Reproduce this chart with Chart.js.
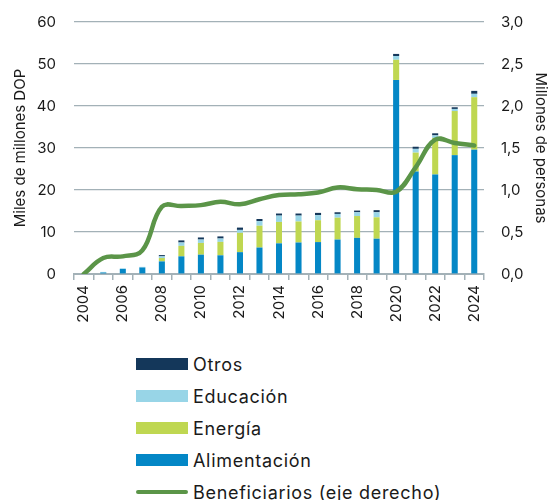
<!DOCTYPE html>
<html>
<head>
<meta charset="utf-8">
<script src="https://cdn.jsdelivr.net/npm/chart.js@4"></script>
<style>
  body { margin: 0; background: #fff; font-family: Inter, sans-serif; }
  #wrap { position: relative; width: 552px; height: 500px; }
  #chart { position: absolute; left: 0; top: 0; }
  #legend { position: absolute; left: 136px; top: 348px; margin: 0; padding: 0; list-style: none; }
  #legend li { display: flex; align-items: center; height: 32px; font-size: 18px; letter-spacing: 0.7px; color: #1a1a1a; white-space: nowrap; }
  #legend .sw { width: 52px; margin-right: 5px; flex: none; }
</style>
</head>
<body>
<div id="wrap">
  <canvas id="chart" width="552" height="340"></canvas>
  <ul id="legend"></ul>
</div>
<script>
const years = ["2004", "2005", "2006", "2007", "2008", "2009", "2010", "2011", "2012", "2013", "2014",
  "2015", "2016", "2017", "2018", "2019", "2020", "2021", "2022", "2023", "2024"];

// miles de millones DOP
const alimentacion = [0, 0.35, 1.2, 1.55, 3.0, 4.2, 4.6, 4.45, 5.2, 6.3, 7.3, 7.5, 7.6, 8.2, 8.6, 8.4, 46.2, 24.4, 23.7, 28.3, 29.6];
const energia = [0, 0, 0, 0, 0.8, 2.5, 2.8, 3.2, 4.6, 5.2, 5.1, 5.0, 5.2, 5.2, 5.2, 5.1, 4.8, 4.5, 8.7, 10.5, 12.5];
const educacion = [0, 0.15, 0.15, 0.15, 0.4, 0.8, 0.8, 0.8, 0.7, 1.1, 1.5, 1.4, 1.2, 0.9, 0.9, 1.2, 0.9, 0.9, 0.6, 0.5, 0.8];
const otros = [0, 0, 0, 0, 0.3, 0.5, 0.5, 0.5, 0.55, 0.5, 0.5, 0.5, 0.55, 0.4, 0.4, 0.5, 0.5, 0.5, 0.5, 0.4, 0.7];

// millones de personas (eje derecho)
const beneficiarios = [0.0, 0.19, 0.21, 0.28, 0.80, 0.81, 0.82, 0.86, 0.83, 0.89, 0.94, 0.95, 0.97, 1.03, 1.01, 1.00, 0.98, 1.27, 1.60, 1.56, 1.53];

const legendOrder = ["Otros", "Educación", "Energía", "Alimentación", "Beneficiarios (eje derecho)"];

const gridColor = "#a3b1b7";
const textColor = "#1a1a1a";
const font = { family: "Inter, sans-serif", size: 15 };

const bar = (label, data, color) => ({
  type: "bar",
  label,
  data,
  backgroundColor: color,
  yAxisID: "y",
  stack: "s1",
  order: 2,
  barPercentage: 0.31,
  categoryPercentage: 1,
});

// fixed box sizes so the plot area lands where the original has it
const fixWidth = (w) => (s) => {
  s.width = w;
  s.paddingTop = 0;
  s.paddingBottom = 0;
};

// html legend, one item per row
const htmlLegend = {
  id: "htmlLegend",
  afterUpdate(chart) {
    const ul = document.getElementById("legend");
    ul.innerHTML = "";
    const items = chart.options.plugins.legend.labels.generateLabels(chart);
    legendOrder.forEach((name) => {
      const item = items.find((it) => it.text === name);
      if (!item) return;
      const li = document.createElement("li");
      const sw = document.createElement("span");
      sw.className = "sw";
      const ds = chart.data.datasets[item.datasetIndex];
      if (ds.type === "line") {
        sw.style.height = "4px";
        sw.style.borderRadius = "2px";
        sw.style.background = ds.borderColor;
      } else {
        sw.style.height = "12px";
        sw.style.background = ds.backgroundColor;
      }
      li.appendChild(sw);
      li.appendChild(document.createTextNode(item.text));
      ul.appendChild(li);
    });
  },
};

new Chart(document.getElementById("chart"), {
  data: {
    labels: years,
    datasets: [
      {
        type: "line",
        label: "Beneficiarios (eje derecho)",
        data: beneficiarios,
        yAxisID: "y2",
        borderColor: "#5b9548",
        borderWidth: 4.5,
        borderCapStyle: "round",
        tension: 0.4,
        pointRadius: 0,
        order: 1,
      },
      bar("Alimentación", alimentacion, "#0487c6"),
      bar("Energía", energia, "#bfd751"),
      bar("Educación", educacion, "#98d5e7"),
      bar("Otros", otros, "#14375a"),
    ],
  },
  plugins: [htmlLegend],
  options: {
    responsive: false,
    animation: false,
    layout: { padding: { top: 22, bottom: 0, left: 0, right: 0 } },
    plugins: {
      legend: { display: false },
      tooltip: { enabled: false },
    },
    scales: {
      x: {
        stacked: true,
        afterFit: (s) => { s.height = 66; },
        grid: {
          offset: true,
          drawOnChartArea: false,
          drawTicks: true,
          tickLength: 6,
          color: gridColor,
          lineWidth: 1.5,
        },
        border: { color: gridColor, width: 2 },
        ticks: {
          autoSkip: false,
          minRotation: 90,
          maxRotation: 90,
          padding: 5,
          color: textColor,
          font,
          callback: (v, i) => (i % 2 === 0 ? years[i] : ""),
        },
      },
      y: {
        stacked: true,
        position: "left",
        min: 0,
        max: 60,
        afterFit: fixWidth(74),
        grid: { color: gridColor, lineWidth: 1.2, drawTicks: false },
        border: { display: false },
        ticks: { stepSize: 10, padding: 18, color: textColor, font },
        title: { display: true, text: "Miles de millones DOP", color: textColor, font, padding: { top: 11, bottom: 0 } },
      },
      y2: {
        position: "right",
        min: 0,
        max: 3,
        afterFit: fixWidth(68),
        grid: { drawOnChartArea: false, drawTicks: false },
        border: { display: false },
        ticks: {
          stepSize: 0.5,
          padding: 17,
          color: textColor,
          font,
          callback: (v) => v.toFixed(1).replace(".", ","),
        },
        title: { display: true, text: "Millones de personas", color: textColor, font, padding: { top: 2, bottom: 0 } },
      },
    },
  },
});
</script>
</body>
</html>
